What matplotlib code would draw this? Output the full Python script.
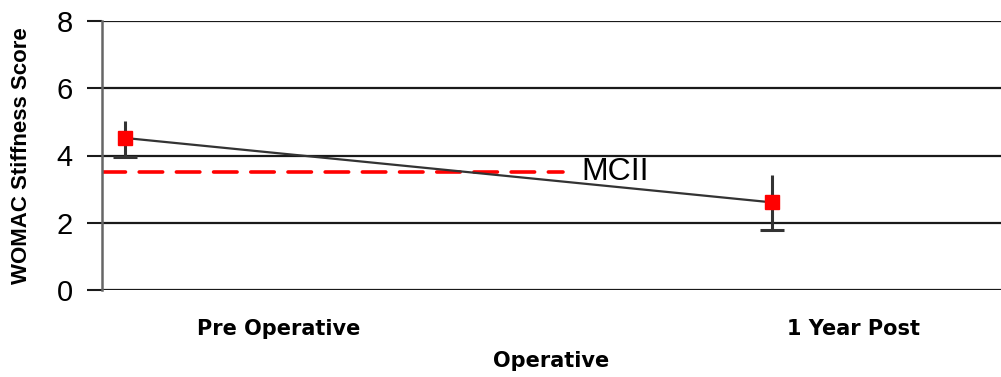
import numpy as np
import matplotlib.pyplot as plt

plt.rcParams['font.family'] = ['Liberation Sans', 'DejaVu Sans']

# データ
categories = ['Pre Operative', '1 Year Post']
scores = [4.52, 2.61]
err_low = [3.96, 1.78]
err_high = [5.02, 3.43]
mcii = 3.5

x = np.arange(len(scores))

fig = plt.figure(figsize=(10.01, 3.77), dpi=100)
ax = fig.add_axes([102 / 1001, 1 - 290.3 / 377, 1 - 102 / 1001, (290.3 - 20.7) / 377])

# グリッド線
for yv in [2, 4, 6, 8]:
    ax.axhline(yv, color='#1a1a1a', lw=1.6, zorder=1)
ax.axhline(0, color='#1a1a1a', lw=1.6, zorder=1)

# 線と誤差棒（下側だけキャップ）
ax.plot(x, scores, color='#333333', lw=1.6, zorder=3)
ax.vlines(x, err_low, err_high, color='#333333', lw=2.2, zorder=3)
ax.plot(x, err_low, '_', color='#333333', ms=17, mew=2.2, zorder=3)
ax.plot(x, scores, 's', color='#ff0000', ms=10, zorder=4)

# MCII 破線
ax.plot([-0.0356, 0.677], [mcii, mcii], color='#ff0000', lw=2.6,
        dashes=(6.5, 3.8), dash_capstyle='round', zorder=2)
ax.text(0.705, mcii, 'MCII', fontsize=23, va='center', ha='left')

ax.set_xlim(-0.0356, 1.3546)
ax.set_ylim(0, 8)
ax.set_yticks([0, 2, 4, 6, 8])
ax.tick_params(axis='y', labelsize=21, length=11, width=1.5, color='#1a1a1a', pad=10)
ax.set_xticks([0.237, 1.126])
ax.set_xticklabels(categories, fontsize=15, fontweight='bold', family='DejaVu Sans')
ax.tick_params(axis='x', length=0, pad=21)
ax.set_xlabel('Operative', fontsize=15, fontweight='bold', family='DejaVu Sans', labelpad=8)
ax.set_ylabel('WOMAC Stiffness Score', fontsize=16, fontweight='bold', labelpad=18)

for s in ['top', 'right', 'bottom']:
    ax.spines[s].set_visible(False)
ax.spines['left'].set_color('#666666')
ax.spines['left'].set_linewidth(1.8)

fig.savefig('out.png', dpi=100)
